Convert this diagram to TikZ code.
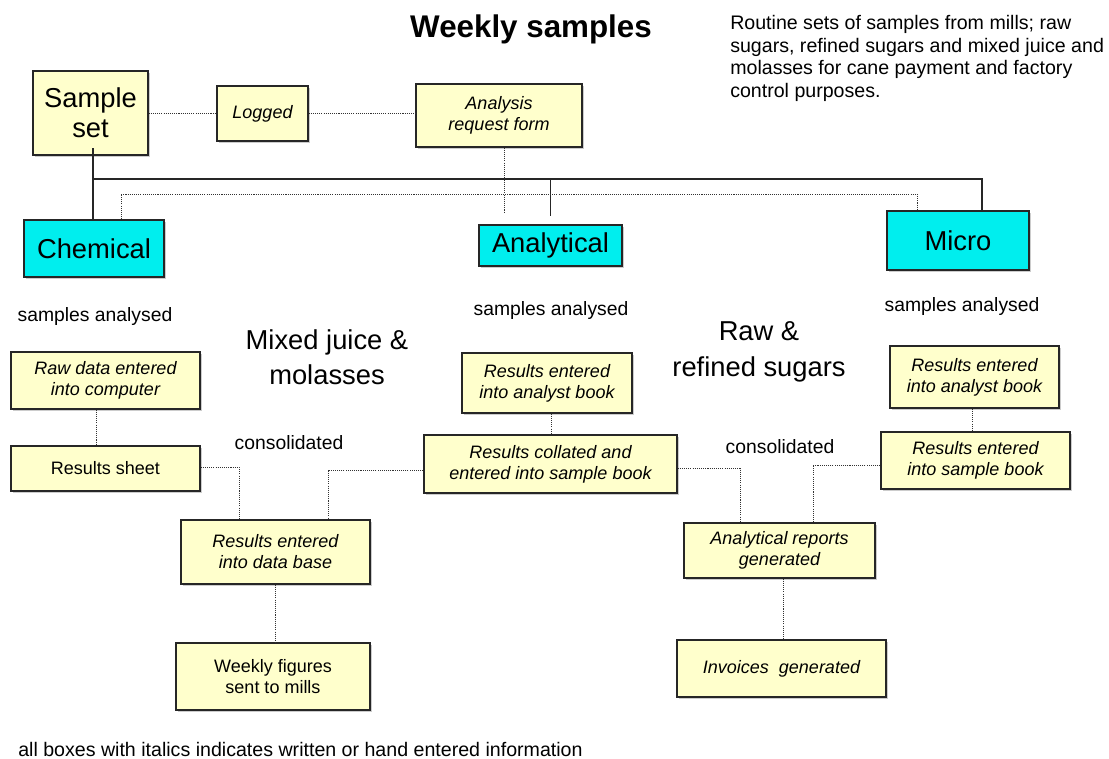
\documentclass[tikz,border=0pt]{standalone}
\usepackage{fontspec}
\setmainfont{Liberation Sans}
\usetikzlibrary{shadows}
\definecolor{paleyellow}{RGB}{255,255,204}
\definecolor{deptcyan}{RGB}{0,238,238}
\begin{document}
\begin{tikzpicture}[x=0.75pt,y=-0.75pt,
  sz/.style 2 args={minimum width=#1*0.75pt, minimum height=#2*0.75pt},
  box/.style={draw=black!85, line width=0.9pt, fill=paleyellow,
    drop shadow={shadow xshift=1.5pt, shadow yshift=-1.5pt, fill=black!20, opacity=1},
    align=center, inner sep=2pt, font=\fontsize{13.5}{15.75}\selectfont},
  ibox/.style={box, font=\fontsize{13.5}{15.75}\selectfont\itshape},
  dept/.style={box, fill=deptcyan, font=\fontsize{20.5}{24}\selectfont},
  solidlink/.style={draw=black!85, line width=0.8pt},
  dotlink/.style={draw=black!80, line width=0.6pt, dash pattern=on 0.8pt off 0.8pt},
  lbl/.style={font=\fontsize{14.5}{17}\selectfont, inner sep=0pt},
  big/.style={font=\fontsize{20.5}{26.5}\selectfont, align=center, inner sep=0pt}]
\useasboundingbox (0,0) rectangle (1109,758);

% headings and notes
\node[font=\fontsize{23.5}{28}\selectfont\bfseries] (title) at (531,29) {Weekly samples};
\node[anchor=north west, align=left, inner sep=0pt, font=\fontsize{14.7}{17}\selectfont] (note) at (730,15)
  {Routine sets of samples from mills; raw\\sugars, refined sugars and mixed juice and\\molasses for cane payment and factory\\control purposes.};

% top row
\node[box, sz={115}{84}, font=\fontsize{20.5}{22.5}\selectfont] (ss) at (90.5,113) {Sample\\set};
\node[ibox, sz={91}{55}] (logged) at (262.5,113.5) {Logged};
\node[ibox, sz={166}{63}] (arf) at (499,115.5) {Analysis\\request form};

% departments
\node[dept, sz={140}{57}] (chem) at (94,248.5) {Chemical};
\node[dept, sz={143}{41}] (anal) at (550.5,245.5) {Analytical};
\node[dept, sz={142}{59}] (micro) at (958,240.5) {Micro};

% section labels
\node[lbl] (sa1) at (95,316) {samples analysed};
\node[lbl] (sa2) at (551,310) {samples analysed};
\node[lbl] (sa3) at (962,306) {samples analysed};
\node[big] (mj) at (327,357) {Mixed juice \&\\molasses};
\node[big] (rs) at (759,352) {Raw \&\\refined sugars};
\node[lbl] (cons1) at (289,443) {consolidated};
\node[lbl] (cons2) at (780,447) {consolidated};

% mixed juice & molasses column
\node[ibox, sz={189}{57}] (raw) at (105.5,380.5) {Raw data entered\\into computer};
\node[box, sz={189}{45}] (rsheet) at (105.5,468.5) {Results sheet};
\node[ibox, sz={189}{64}] (rdb) at (275.5,552) {Results entered\\into data base};
\node[box, sz={194}{67}] (weekly) at (273,676.5) {Weekly figures\\sent to mills};

% analytical column
\node[ibox, sz={170}{60}] (rab1) at (547,383) {Results entered\\into analyst book};
\node[ibox, sz={253}{58}] (rcol) at (550.5,464) {Results collated and\\entered into sample book};

% micro column
\node[ibox, sz={169}{62}] (rab2) at (974.5,377) {Results entered\\into analyst book};
\node[ibox, sz={189}{57}] (rsb2) at (975.5,460.5) {Results entered\\into sample book};
\node[ibox, sz={191}{55}] (arg) at (779.5,550.5) {Analytical reports\\generated};
\node[ibox, sz={209}{57}] (inv) at (781.5,668.5) {Invoices\ \ generated};

\node[anchor=base west, inner sep=0pt, font=\fontsize{14.7}{17}\selectfont] (foot) at (18,756)
  {all boxes with italics indicates written or hand entered information};

% sample flow along the top
\draw[dotlink] (ss.east |- logged.west) -- (logged.west);
\draw[dotlink] (logged.east) -- (logged.east -| arf.west);

% distribution bus (solid)
\coordinate (ssfoot) at (93,148);
\coordinate (busL) at (93,179);
\coordinate (busR) at (982,179);
\draw[solidlink] (ssfoot) -- (ssfoot |- chem.north);
\draw[solidlink] (busL) -- (busR) -- (busR |- micro.north);
\draw[solidlink] (busL -| anal.north) -- ++(0,37);

% request form distribution (dotted)
\coordinate (arfdrop) at (504,213);
\coordinate (dbL) at (121,194);
\coordinate (dbR) at (917,194);
\draw[dotlink] (arf.south -| arfdrop) -- (arfdrop);
\draw[dotlink] (dbL |- chem.north) -- (dbL) -- (dbR) -- (dbR |- micro.north);

% mixed juice & molasses flow
\draw[dotlink] (raw.south -| 96,0) -- (rsheet.north -| 96,0);
\coordinate (c1) at (239,467);
\coordinate (c2) at (328,470);
\draw[dotlink] (rsheet.east |- c1) -- (c1) -- (c1 |- rdb.north);
\draw[dotlink] (rcol.west |- c2) -- (c2) -- (c2 |- rdb.north);
\draw[dotlink] (rdb.south) -- (weekly.north -| rdb.south);

% analytical flow
\draw[dotlink] (rab1.south -| 551,0) -- (rcol.north -| 551,0);
\coordinate (c3) at (740,468);
\draw[dotlink] (rcol.east |- c3) -- (c3) -- (c3 |- arg.north);

% micro flow
\draw[dotlink] (rab2.south -| 972,0) -- (rsb2.north -| 972,0);
\coordinate (c4) at (813,465);
\draw[dotlink] (rsb2.west |- c4) -- (c4) -- (c4 |- arg.north);
\draw[dotlink] (arg.south -| 783,0) -- (inv.north -| 783,0);
\end{tikzpicture}
\end{document}
